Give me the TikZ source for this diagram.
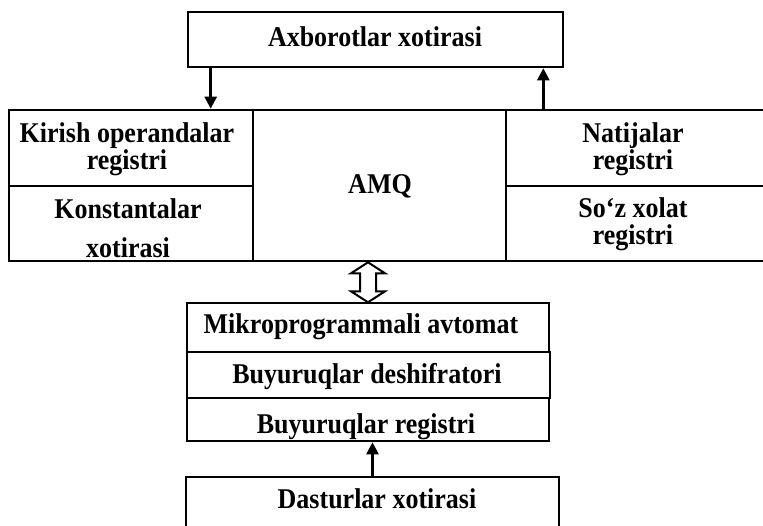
\documentclass[tikz,border=0pt]{standalone}
\usepackage{fontspec}
\setmainfont{Liberation Serif}
\usetikzlibrary{arrows.meta,calc}
% slightly taller lettering
\newcommand\tallt[1]{\scalebox{1}[1.1]{#1}}
\begin{document}
\begin{tikzpicture}[x=1pt,y=-1pt,
  cell/.style={draw, line width=2.6pt, inner sep=0pt, anchor=center},
  lbl/.style={anchor=base, inner sep=0pt, font=\fontsize{26}{30}\selectfont\bfseries},
  arr/.style={line width=2.6pt, -{Triangle[length=12pt,width=12pt]}},
  link/.style={line width=2pt, line join=miter}]
\clip (0,0) rectangle (763,526);

% memory on top
\node[cell, minimum width=375pt, minimum height=55pt] (axb) at (375.5,39.5) {};

% processor block: registers around the ALU
\node[cell, minimum width=244pt, minimum height=76pt]  (kirish) at (131,148) {};
\node[cell, minimum width=244pt, minimum height=75pt]  (konst)  at (131,223.5) {};
\node[cell, minimum width=253pt, minimum height=151pt] (amq)    at (379.5,185.5) {};
\node[cell, minimum width=269pt, minimum height=76pt]  (natij)  at (640.5,148) {};
\node[cell, minimum width=269pt, minimum height=75pt]  (soz)    at (640.5,223.5) {};

% control unit stack
\node[cell, minimum width=362pt, minimum height=49pt] (mikro) at (368,327.5) {};
\node[cell, minimum width=363pt, minimum height=46pt] (bdesh) at (368.5,375) {};
\node[cell, minimum width=362pt, minimum height=43pt] (breg)  at (368,419.5) {};

% program memory
\node[cell, minimum width=373pt, minimum height=83pt] (dastur) at (372.5,518.5) {};

% labels
\node[lbl] (taxb) at (375,47) {\tallt{Axborotlar xotirasi}};
\node[lbl] (tkir1) at (127,143) {\tallt{Kirish operandalar}};
\node[lbl] (tkir2) at (127,170) {\tallt{registri}};
\node[lbl] (tkon1) at (128,219) {\tallt{Konstantalar}};
\node[lbl] (tkon2) at (128,258) {\tallt{xotirasi}};
\node[lbl] (tamq) at (380,194) {\tallt{AMQ}};
\node[lbl] (tnat1) at (633,143) {\tallt{Natijalar}};
\node[lbl] (tnat2) at (633,170) {\tallt{registri}};
\node[lbl] (tsoz1) at (633,218) {\tallt{So‘z xolat}};
\node[lbl] (tsoz2) at (633,245) {\tallt{registri}};
\node[lbl] (tmik) at (361,334) {\tallt{Mikroprogrammali avtomat}};
\node[lbl] (tdes) at (367,384) {\tallt{Buyuruqlar deshifratori}};
\node[lbl] (treg) at (366,433) {\tallt{Buyuruqlar registri}};
\node[lbl] (tdas) at (377,508) {\tallt{Dasturlar xotirasi}};

% data paths
\coordinate (dn) at ($(axb.south west)+(24,0)$);
\coordinate (up) at ($(axb.south east)+(-21,0)$);
\draw[arr] (dn) -- (dn |- kirish.north);
\draw[arr] (up |- natij.north) -- (up);
\draw[arr] (dastur.north) -- (dastur.north |- breg.south);

% two-way hollow link between the ALU and the control unit
\draw[link] (amq.south -| mikro.north) -- ++(17,11) -- ++(-9,0) -- ++(0,18)
  -- ++(9,0) -- ++(-17,11) -- ++(-17,-11) -- ++(9,0) -- ++(0,-18)
  -- ++(-9,0) -- cycle;
\end{tikzpicture}
\end{document}
